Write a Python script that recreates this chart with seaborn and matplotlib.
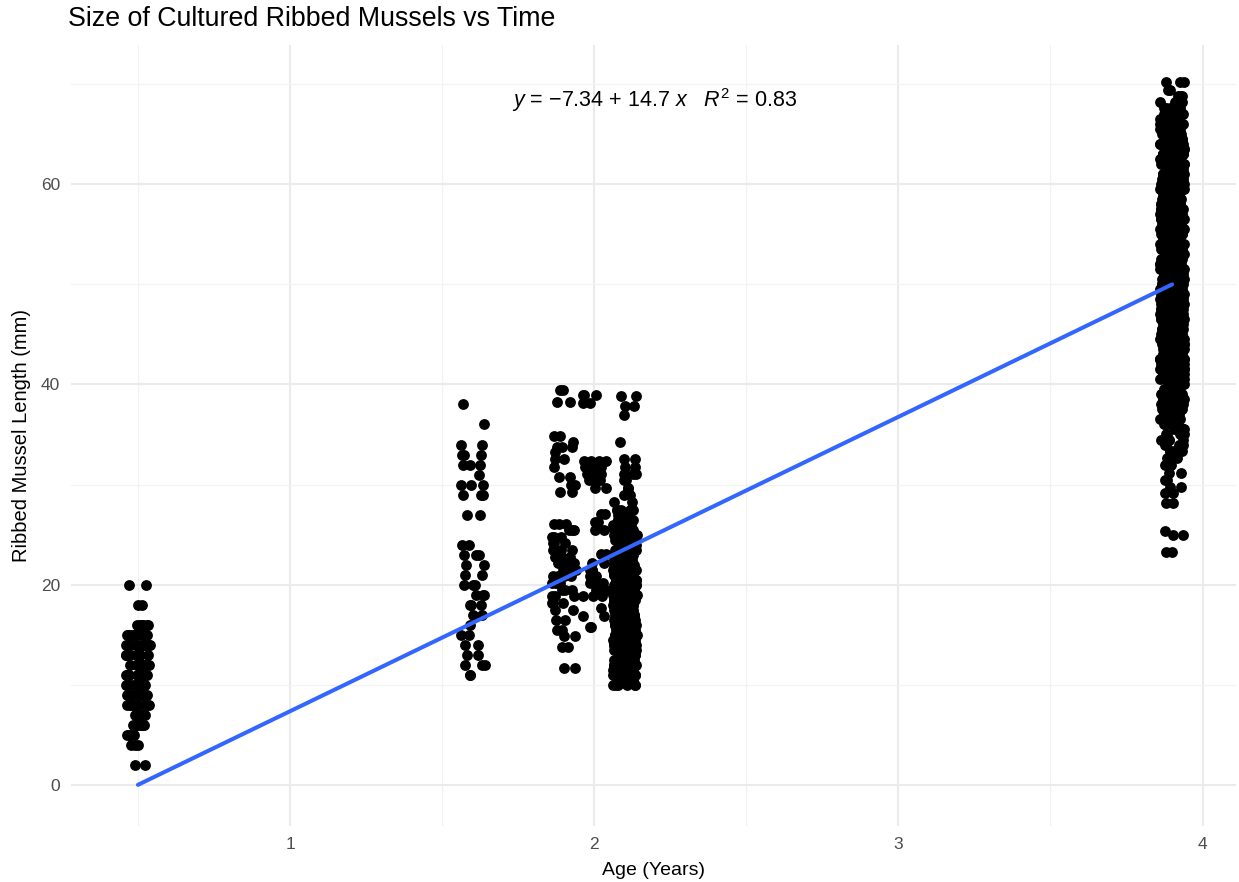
import numpy as np
import pandas as pd
import matplotlib
matplotlib.use("Agg")
import matplotlib.pyplot as plt
import seaborn as sns

# ---------------- data ----------------
ages = [0.5, 1.6, 1.9, 2.0, 2.1, 3.9]

len_05 = [2, 4, 5, 6, 7, 8, 9, 10, 11, 12, 13, 14, 15, 16, 18, 20]
n_05 = [2, 3, 4, 7, 6, 9, 10, 11, 11, 11, 11, 10, 9, 7, 2, 2]

len_16 = [11, 12, 13, 14, 15, 16, 17, 18, 19, 20, 21, 22, 23, 24, 27, 29, 30,
          31, 32, 33, 34, 36, 38]
n_16 = [2, 3, 2, 2, 2, 1, 2, 3, 3, 3, 2, 2, 3, 2, 2, 3, 3, 1, 3, 3, 2, 1, 1]

len_19 = [11.7, 13.8, 14.9, 15.5, 16.5, 17.5, 18.2, 18.9, 19.5, 20.2, 20.9,
          21.5, 22.2, 22.8, 23.5, 24.2, 24.8, 25.5, 26.1, 29.3, 30.0, 30.8,
          31.8, 32.6, 33.3, 33.8, 34.3, 34.9, 38.2, 39.4]
n_19 = [2, 2, 2, 2, 2, 2, 3, 3, 3, 4, 4, 4, 4, 3, 3, 3, 3, 3, 3, 2, 2, 2, 1,
        2, 1, 3, 1, 2, 2, 2]

len_20 = [15.8, 16.9, 17.7, 18.9, 19.5, 20.2, 20.9, 21.5, 22.2, 23.1, 25.5,
          26.3, 27.1, 29.7, 30.5, 31.1, 31.8, 32.4, 38.1, 38.9]
n_20 = [2, 2, 1, 3, 3, 3, 3, 3, 2, 2, 2, 2, 2, 2, 3, 3, 4, 4, 2, 3]

len_21 = [10.0, 10.5, 11.0, 11.5, 12.0, 12.5, 13.0, 13.5, 14.0, 14.5, 15.0,
          15.5, 16.0, 16.5, 17.0, 17.5, 18.0, 18.5, 19.0, 19.5, 20.0, 20.5,
          21.0, 21.5, 22.0, 22.5, 23.0, 23.5, 24.0, 24.5, 25.0, 25.5, 26.0,
          26.5, 27.0, 27.5, 28.3, 29.0, 29.7, 30.5, 31.1, 31.8, 32.6, 34.3,
          36.9, 37.8, 38.8]
n_21 = [6, 8, 9, 10, 14, 14, 14, 14, 14, 14, 14, 14, 14, 14, 14, 14, 14, 14,
        14, 14, 14, 14, 14, 14, 14, 10, 10, 10, 10, 10, 10, 5, 5, 5, 5, 5,
        2, 2, 2, 2, 3, 2, 2, 1, 1, 2, 2]

len_39 = [23.3, 25.0, 25.4, 28.2, 29.2, 29.8, 30.5, 31.2, 32.0, 32.7, 33.4,
          34.0, 34.5, 35.0, 35.5, 36.0, 36.5, 37.0, 37.5, 38.0, 38.5, 39.0,
          39.5, 40.0, 40.5, 41.0, 41.5, 42.0, 42.5, 43.0, 43.5, 44.0, 44.5,
          45.0, 45.5, 46.0, 46.5, 47.0, 47.5, 48.0, 48.5, 49.0, 49.5, 50.0,
          50.5, 51.0, 51.5, 52.0, 52.5, 53.0, 53.5, 54.0, 54.5, 55.0, 55.5,
          56.0, 56.5, 57.0, 57.5, 58.0, 58.5, 59.0, 59.5, 60.0, 60.5, 61.0,
          61.5, 62.0, 62.5, 63.0, 63.5, 64.0, 64.5, 65.0, 65.5, 66.0, 66.5,
          67.0, 67.6, 68.2, 68.8, 69.4, 70.2]
n_39 = [2, 2, 1, 2, 2, 2, 2, 2, 3, 3, 4,
        4, 4, 4, 4, 6, 6, 6, 6, 10, 10, 10,
        10, 14, 14, 14, 14, 14, 14, 14, 14, 14, 14,
        14, 14, 14, 14, 14, 14, 14, 14, 14, 14, 14,
        14, 14, 14, 14, 14, 14, 14, 14, 14, 14, 14,
        14, 14, 14, 14, 14, 14, 14, 14, 14, 14, 14,
        14, 14, 14, 14, 14, 14, 14, 9, 9, 9, 9,
        9, 5, 4, 3, 2, 3]

fit_intercept = -7.34
fit_slope = 14.7
fit_r2 = 0.83

title = "Size of Cultured Ribbed Mussels vs Time"
x_label = "Age (Years)"
y_label = "Ribbed Mussel Length (mm)"
x_ticks = [1, 2, 3, 4]
y_ticks = [0, 20, 40, 60]

# ---------------- build frame ----------------
lengths_all = [len_05, len_16, len_19, len_20, len_21, len_39]
counts_all = [n_05, n_16, n_19, n_20, n_21, n_39]
frames = []
for age, L, N in zip(ages, lengths_all, counts_all):
    frames.append(pd.DataFrame({"age": age, "length": np.repeat(L, N)}))
df = pd.concat(frames, ignore_index=True)

line_df = pd.DataFrame({"age": [min(ages), max(ages)]})
line_df["length"] = fit_intercept + fit_slope * line_df["age"]

# ---------------- plot ----------------
sns.set_theme(style="white")
plt.rcParams["font.family"] = ["Liberation Sans", "DejaVu Sans"]
plt.rcParams["mathtext.fontset"] = "custom"
plt.rcParams["mathtext.rm"] = "Liberation Sans"
plt.rcParams["mathtext.it"] = "Liberation Sans:italic"

W, H = 1239, 882
fig = plt.figure(figsize=(W / 100, H / 100), dpi=100)
fig.patch.set_facecolor("white")
ax = fig.add_axes([71 / W, 56 / H, 1165 / W, 781 / H])

sns.stripplot(data=df, x="age", y="length", native_scale=True, jitter=0.4,
              color="black", size=7.8, linewidth=0, ax=ax, zorder=3)
sns.lineplot(data=line_df, x="age", y="length", color="#3366FF", lw=2.9,
             ax=ax, zorder=4)

ax.set_xlim(0.28, 4.11)
ax.set_ylim(-4.1, 73.9)
ax.set_xticks(x_ticks)
ax.set_xticklabels([str(t) for t in x_ticks])
ax.set_yticks(y_ticks)
ax.set_yticklabels([str(t) for t in y_ticks])
ax.set_xticks([0.5, 1.5, 2.5, 3.5], minor=True)
ax.set_yticks([10, 30, 50, 70], minor=True)
ax.grid(which="major", color="#EBEBEB", lw=1.5, zorder=0)
ax.grid(which="minor", color="#F2F2F2", lw=0.9, zorder=0)
ax.set_axisbelow(True)
for s in ax.spines.values():
    s.set_visible(False)
ax.tick_params(which="both", length=0, labelsize=12.5, labelcolor="#4D4D4D",
               pad=8)

ax.set_xlabel(x_label, fontsize=14, color="black", labelpad=7)
ax.set_ylabel(y_label, fontsize=14.5, color="black", labelpad=7)

fig.text(68 / W, 1 - 19 / H, title, fontsize=19.3, ha="left", va="center",
         color="black")

eq = (r"$y$ = $-$7.34 + 14.7 $x$   $R^2$ = 0.83")
ax.text(2.2, 68.4, eq, fontsize=15.5, ha="center", va="center", color="black")

fig.savefig("out.png", dpi=100, facecolor="white")
